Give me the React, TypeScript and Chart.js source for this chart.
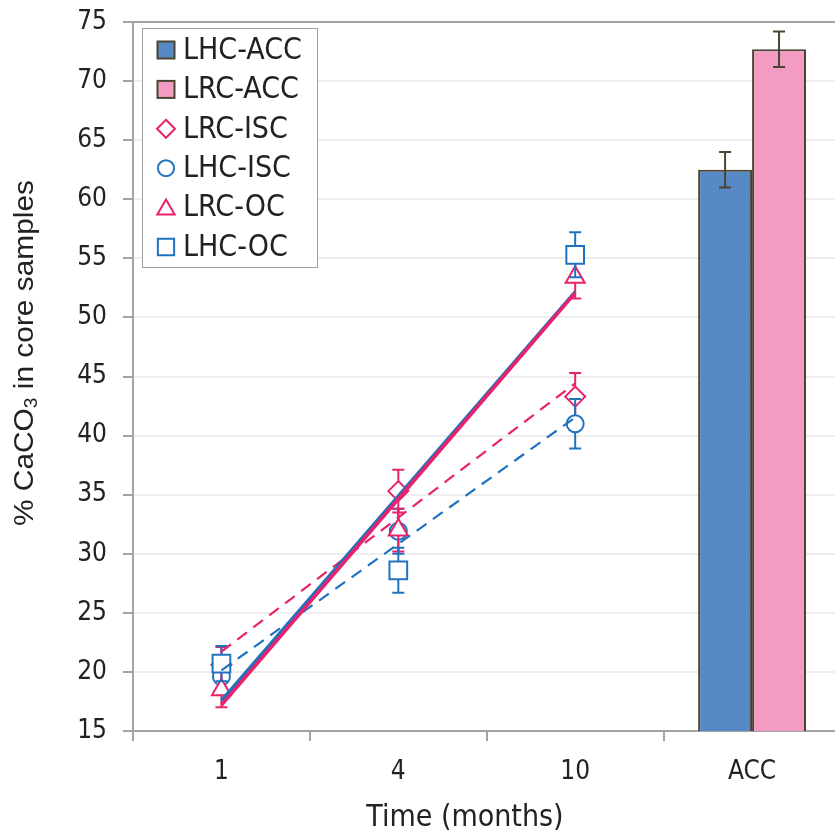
import React, { useEffect, useRef } from 'react';
import { Chart, registerables } from 'chart.js';

Chart.register(...registerables);

// ---------- data ----------
const categories = ['1', '4', '10', 'ACC'];
const yMin = 15;
const yMax = 75;
const yStep = 5;

const lhcAcc = 62.5;
const lhcAccErr = 1.5;
const lrcAcc = 72.7;
const lrcAccErr = 1.5;

const lrcIsc = [20.6, 35.3, 43.3];
const lrcIscErr = [1.5, 1.8, 2.0];
const lhcIsc = [19.6, 31.9, 41.0];
const lhcIscErr = [1.5, 1.9, 2.1];
const lrcOc = [18.5, 32.0, 53.4];
const lrcOcErr = [1.5, 1.8, 1.8];
const lhcOc = [20.7, 28.6, 55.3];
const lhcOcErr = [1.5, 1.9, 1.9];

const xTitle = 'Time (months)';

// ---------- styles ----------
const PINK = '#E8226C';
const BLUE = '#1F73BE';
const BAR_BLUE = '#5789C6';
const BAR_PINK = '#F39BC3';
const OLIVE = '#4A4531';
const AXIS = '#A3A3A3';
const GRID = '#EDEDED';
const TEXT = '#222222';
const FONT = '"DejaVu Sans Condensed", "DejaVu Sans", sans-serif';

const W = 855;
const H = 837;

function linFit(vals: number[]): number[] {
  const n = vals.length;
  const xs = vals.map((_, i) => i);
  const mx = xs.reduce((a, b) => a + b, 0) / n;
  const my = vals.reduce((a, b) => a + b, 0) / n;
  let sxy = 0;
  let sxx = 0;
  for (let i = 0; i < n; i++) {
    sxy += (xs[i] - mx) * (vals[i] - my);
    sxx += (xs[i] - mx) * (xs[i] - mx);
  }
  const slope = sxy / sxx;
  return xs.map((x) => my + slope * (x - mx));
}

function drawErrors(chart: any, index: number) {
  const ds = chart.data.datasets[index];
  if (!ds.errors) return;
  const meta = chart.getDatasetMeta(index);
  if (meta.hidden) return;
  const ys = chart.scales.y;
  const ctx = chart.ctx;
  ctx.save();
  ctx.strokeStyle = ds.errColor;
  ctx.lineWidth = 2;
  const cap = 6;
  meta.data.forEach((el: any, j: number) => {
    const v = ds.data[j];
    const e = ds.errors[j];
    if (v == null || !e) return;
    const x = el.x;
    const yt = ys.getPixelForValue(v + e);
    const yb = ys.getPixelForValue(v - e);
    ctx.beginPath();
    ctx.moveTo(x, yt);
    ctx.lineTo(x, yb);
    ctx.moveTo(x - cap, yt);
    ctx.lineTo(x + cap, yt);
    ctx.moveTo(x - cap, yb);
    ctx.lineTo(x + cap, yb);
    ctx.stroke();
  });
  ctx.restore();
}

function drawMarker(ctx: CanvasRenderingContext2D, style: string, x: number, y: number, r: number) {
  ctx.beginPath();
  if (style === 'rect') {
    const s = r * Math.SQRT1_2;
    ctx.rect(x - s, y - s, 2 * s, 2 * s);
  } else if (style === 'rectRot') {
    ctx.moveTo(x, y - r);
    ctx.lineTo(x + r, y);
    ctx.lineTo(x, y + r);
    ctx.lineTo(x - r, y);
    ctx.closePath();
  } else if (style === 'circle') {
    ctx.arc(x, y, r, 0, Math.PI * 2);
  } else if (style === 'triangle') {
    ctx.moveTo(x, y - r);
    ctx.lineTo(x + r * 0.866, y + r / 2);
    ctx.lineTo(x - r * 0.866, y + r / 2);
    ctx.closePath();
  }
}

const customPlugin = {
  id: 'custom',
  beforeDatasetDraw(chart: any, args: any) {
    const ds = chart.data.datasets[args.index];
    if (ds.errors && !ds.errOnTop) drawErrors(chart, args.index);
  },
  afterDatasetDraw(chart: any, args: any) {
    const ds = chart.data.datasets[args.index];
    if (ds.errors && ds.errOnTop) drawErrors(chart, args.index);
  },
  afterDraw(chart: any) {
    const ctx: CanvasRenderingContext2D = chart.ctx;
    const area = chart.chartArea;
    ctx.save();
    // top frame line
    ctx.strokeStyle = AXIS;
    ctx.lineWidth = 2;
    ctx.beginPath();
    ctx.moveTo(area.left, area.top);
    ctx.lineTo(area.right, area.top);
    ctx.stroke();

    // legend
    const lx = 142.5;
    const ly = 28.5;
    const lw = 175;
    const lh = 239;
    ctx.fillStyle = '#ffffff';
    ctx.fillRect(lx, ly, lw, lh);
    ctx.strokeStyle = '#A0A0A0';
    ctx.lineWidth = 1;
    ctx.strokeRect(lx, ly, lw, lh);
    const items = chart.data.datasets.filter((d: any) => d.legendStyle);
    items.forEach((d: any, i: number) => {
      const cy = 50 + i * 39.4;
      const cx = 166;
      if (d.legendStyle === 'bar') {
        ctx.fillStyle = d.backgroundColor;
        ctx.fillRect(cx - 8.5, cy - 8.5, 17, 17);
        ctx.strokeStyle = OLIVE;
        ctx.lineWidth = 2;
        ctx.strokeRect(cx - 8.5, cy - 8.5, 17, 17);
      } else {
        ctx.strokeStyle = d.pointBorderColor;
        ctx.lineWidth = 2;
        const r = d.legendStyle === 'circle' ? 8 : d.legendStyle === 'rectRot' ? 9 : d.legendStyle === 'triangle' ? 10 : 11.5;
        drawMarker(ctx, d.legendStyle, cx, d.legendStyle === 'triangle' ? cy + 2 : cy, r);
        ctx.fillStyle = '#ffffff';
        ctx.fill();
        ctx.stroke();
      }
      ctx.fillStyle = TEXT;
      ctx.font = `30px ${FONT}`;
      ctx.textAlign = 'left';
      ctx.textBaseline = 'middle';
      ctx.fillText(d.label, 183, cy + 1);
    });

    // x title
    ctx.fillStyle = TEXT;
    ctx.font = `30px ${FONT}`;
    ctx.textAlign = 'center';
    ctx.textBaseline = 'middle';
    ctx.fillText(xTitle, 465, 818);

    // y title with subscript, condensed
    ctx.save();
    ctx.translate(25, 353);
    ctx.rotate(-Math.PI / 2);
    const mainFont = `28px "Liberation Sans", Arial, sans-serif`;
    const subFont = `18px "Liberation Sans", Arial, sans-serif`;
    const parts = [
      { t: '% CaCO', f: mainFont, dy: 0 },
      { t: '3', f: subFont, dy: 7 },
      { t: ' in core samples', f: mainFont, dy: 0 },
    ];
    let total = 0;
    parts.forEach((p) => {
      ctx.font = p.f;
      total += ctx.measureText(p.t).width;
    });
    const target = 346;
    const sx = target / total;
    ctx.scale(sx, 1);
    let x = -total / 2;
    ctx.textAlign = 'left';
    ctx.textBaseline = 'middle';
    ctx.fillStyle = TEXT;
    parts.forEach((p) => {
      ctx.font = p.f;
      ctx.fillText(p.t, x, p.dy);
      x += ctx.measureText(p.t).width;
    });
    ctx.restore();

    ctx.restore();
  },
};

function scatterDs(label: string, vals: number[], errs: number[], color: string, style: string, radius: number, order: number) {
  return {
    type: 'line',
    label,
    data: [...vals, null],
    errors: [...errs, 0],
    errColor: color,
    showLine: false,
    pointStyle: style,
    pointRadius: radius,
    pointHoverRadius: radius,
    pointBorderColor: color,
    pointBackgroundColor: '#ffffff',
    pointBorderWidth: 2,
    borderColor: color,
    backgroundColor: '#ffffff',
    order,
    legendStyle: style,
  };
}

function trendDs(vals: number[], color: string, width: number, dash: number[]) {
  return {
    type: 'line',
    label: '',
    data: [...linFit(vals), null],
    borderColor: color,
    borderWidth: width,
    borderDash: dash,
    pointRadius: 0,
    pointHoverRadius: 0,
    fill: false,
    tension: 0,
    order: 0,
  };
}

export default function App() {
  const ref = useRef<HTMLCanvasElement | null>(null);

  useEffect(() => {
    if (!ref.current) return;
    const chart = new Chart(ref.current, {
      type: 'bar',
      data: {
        labels: categories,
        datasets: [
          trendDs(lrcOc, PINK, 3.5, []),
          trendDs(lhcOc, BLUE, 3.5, []),
          trendDs(lrcIsc, PINK, 2.2, [12, 8]),
          trendDs(lhcIsc, BLUE, 2.2, [12, 8]),
          {
            type: 'bar',
            label: 'LHC-ACC',
            data: [null, null, null, lhcAcc],
            errors: [0, 0, 0, lhcAccErr],
            errColor: OLIVE,
            errOnTop: true,
            backgroundColor: BAR_BLUE,
            borderColor: OLIVE,
            borderWidth: 2,
            categoryPercentage: 0.61,
            barPercentage: 1,
            order: 10,
            legendStyle: 'bar',
          },
          {
            type: 'bar',
            label: 'LRC-ACC',
            data: [null, null, null, lrcAcc],
            errors: [0, 0, 0, lrcAccErr],
            errColor: OLIVE,
            errOnTop: true,
            backgroundColor: BAR_PINK,
            borderColor: OLIVE,
            borderWidth: 2,
            categoryPercentage: 0.61,
            barPercentage: 1,
            order: 10,
            legendStyle: 'bar',
          },
          scatterDs('LRC-ISC', lrcIsc, lrcIscErr, PINK, 'rectRot', 10, 5),
          scatterDs('LHC-ISC', lhcIsc, lhcIscErr, BLUE, 'circle', 8.5, 4),
          scatterDs('LRC-OC', lrcOc, lrcOcErr, PINK, 'triangle', 11, 3),
          scatterDs('LHC-OC', lhcOc, lhcOcErr, BLUE, 'rect', 12.5, 2),
        ] as any,
      },
      options: {
        animation: false,
        responsive: false,
        maintainAspectRatio: false,
        layout: { padding: { top: 22, right: 4, left: 0, bottom: 0 } },
        plugins: {
          legend: { display: false },
          tooltip: { enabled: false },
          title: { display: false },
        },
        scales: {
          x: {
            type: 'category',
            offset: true,
            grid: {
              offset: true,
              drawOnChartArea: false,
              drawTicks: true,
              tickLength: 10,
              tickColor: AXIS,
              lineWidth: 2,
            },
            border: { color: AXIS, width: 2 },
            ticks: {
              color: TEXT,
              font: { family: FONT, size: 26 },
              padding: 16,
            },
            afterFit: (s: any) => {
              s.height = 106;
            },
          },
          y: {
            min: yMin,
            max: yMax,
            ticks: {
              stepSize: yStep,
              color: TEXT,
              font: { family: FONT, size: 26, lineHeight: 0.5 },
              padding: 16,
            },
            grid: {
              color: GRID,
              lineWidth: 2,
              tickColor: AXIS,
              tickLength: 10,
            },
            border: { color: AXIS, width: 2 },
            afterFit: (s: any) => {
              s.width = 133;
              s.paddingTop = 0;
              s.paddingBottom = 0;
            },
          },
        },
      } as any,
      plugins: [customPlugin],
    });
    return () => chart.destroy();
  }, []);

  return (
    <div style={{ position: 'fixed', left: 0, top: 0, width: 835, height: 837, overflow: 'hidden', background: '#fff' }}>
      <canvas ref={ref} width={W} height={H} style={{ width: W, height: H, display: 'block' }} />
    </div>
  );
}
